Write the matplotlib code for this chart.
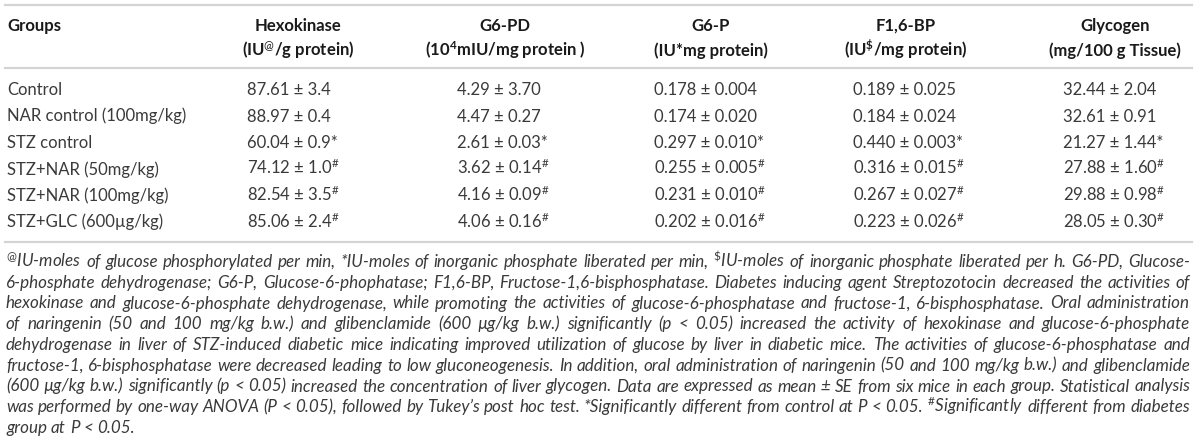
import matplotlib
matplotlib.use('Agg')
import matplotlib.pyplot as plt
from matplotlib.lines import Line2D

plt.rcParams['font.family'] = ['Lato', 'DejaVu Sans']
plt.rcParams['mathtext.fontset'] = 'custom'
plt.rcParams['mathtext.rm'] = 'Lato'
plt.rcParams['mathtext.it'] = 'Lato:italic'
plt.rcParams['mathtext.bf'] = 'Lato:bold'

# table data
groups = ['Control', 'NAR control (100mg/kg)', 'STZ control', 'STZ+NAR (50mg/kg)',
          'STZ+NAR (100mg/kg)', 'STZ+GLC (600\u00b5g/kg)']
marks = ['', '', '*', '#', '#', '#']

hex_mean = ['87.61', '88.97', '60.04', '74.12', '82.54', '85.06']
hex_se = ['3.4', '0.4', '0.9', '1.0', '3.5', '2.4']
g6pd_mean = ['4.29', '4.47', '2.61', '3.62', '4.16', '4.06']
g6pd_se = ['3.70', '0.27', '0.03', '0.14', '0.09', '0.16']
g6p_mean = ['0.178', '0.174', '0.297', '0.255', '0.231', '0.202']
g6p_se = ['0.004', '0.020', '0.010', '0.005', '0.010', '0.016']
f16_mean = ['0.189', '0.184', '0.440', '0.316', '0.267', '0.223']
f16_se = ['0.025', '0.024', '0.003', '0.015', '0.027', '0.026']
gly_mean = ['32.44', '32.61', '21.27', '27.88', '29.88', '28.05']
gly_se = ['2.04', '0.91', '1.44', '1.60', '0.98', '0.30']

headers = ['Hexokinase', 'G6-PD', 'G6-P', 'F1,6-BP', 'Glycogen']
units = [r'(IU$^{@}$/g protein)', r'(10$^{\mathbf{4}}$mIU/mg protein )',
         '(IU*mg protein)', r'(IU$^{\mathbf{\$}}$/mg protein)', '(mg/100 g Tissue)']

footnote = [
    r'$^{@}$IU-moles of glucose phosphorylated per min, *IU-moles of inorganic phosphate liberated per min, $^{\$}$IU-moles of inorganic phosphate liberated per h. G6-PD, Glucose-',
    '6-phosphate dehydrogenase; G6-P, Glucose-6-phophatase; F1,6-BP, Fructose-1,6-bisphosphatase. Diabetes inducing agent Streptozotocin decreased the activities of',
    'hexokinase and glucose-6-phosphate dehydrogenase, while promoting the activities of glucose-6-phosphatase and fructose-1, 6-bisphosphatase. Oral administration',
    'of naringenin (50 and 100 mg/kg b.w.) and glibenclamide (600 \u00b5g/kg b.w.) significantly (p < 0.05) increased the activity of hexokinase and glucose-6-phosphate',
    'dehydrogenase in liver of STZ-induced diabetic mice indicating improved utilization of glucose by liver in diabetic mice. The activities of glucose-6-phosphatase and',
    'fructose-1, 6-bisphosphatase were decreased leading to low gluconeogenesis. In addition, oral administration of naringenin (50 and 100 mg/kg b.w.) and glibenclamide',
    '(600 \u00b5g/kg b.w.) significantly (p < 0.05) increased the concentration of liver glycogen. Data are expressed as mean \u00b1 SE from six mice in each group. Statistical analysis',
    'was performed by one-way ANOVA (P < 0.05), followed by Tukey\u2019s post hoc test. *Significantly different from control at P < 0.05. $^{\\#}$Significantly different from diabetes',
    'group at P < 0.05.',
]

W, H = 1200, 445
fig = plt.figure(figsize=(12, 4.45), dpi=100)
fig.patch.set_facecolor('white')
r = fig.canvas.get_renderer()


def fx(x):
    return x / W


def fy(y):
    return (H - y) / H


def hline(y, x0=5, x1=1192):
    fig.add_artist(Line2D([fx(x0), fx(x1)], [fy(y), fy(y)], transform=fig.transFigure,
                          color='#d4d4d4', lw=1.6))


hline(5)
hline(68)
hline(242)

# header
hc = '#1a1a1a'
fig.text(fx(7), fy(25 + 6), 'Groups', fontsize=12, fontweight='bold', color=hc, va='baseline')
centers = [298, 505, 711, 906, 1115]
for c, h, u in zip(centers, headers, units):
    fig.text(fx(c), fy(25 + 6), h, fontsize=12, fontweight='bold', color=hc, ha='center', va='baseline')
    fig.text(fx(c), fy(50 + 6), u, fontsize=12, fontweight='bold', color=hc, ha='center', va='baseline')

# rows
dc = '#3a3a3a'
lefts = [247, 457, 654, 853, 1063]
cols = [(hex_mean, hex_se), (g6pd_mean, g6pd_se), (g6p_mean, g6p_se),
        (f16_mean, f16_se), (gly_mean, gly_se)]
for i, g in enumerate(groups):
    y = 89 + 26.5 * i + 6
    fig.text(fx(7), fy(y), g, fontsize=12, color=dc, va='baseline')
    m = marks[i]
    sup = '' if m == '' else ('*' if m == '*' else r'$^{\#}$')
    for x, (mean, se) in zip(lefts, cols):
        fig.text(fx(x), fy(y), mean[i] + ' \u00b1 ' + se[i] + sup, fontsize=12, color=dc, va='baseline')

# footnote, justified line by line
fs0 = 10


def tw(s, fs):
    t = fig.text(0, 0, s, fontsize=fs, fontstyle='italic')
    w = t.get_window_extent(r).width
    t.remove()
    return w


nat = [tw(l, fs0) for l in footnote[:-1]]
fs = fs0 * 1176 / max(nat)
x0, x1 = 6, 1190
for k, line in enumerate(footnote):
    y = 262 + 20.75 * k + 5
    words = line.split(' ')
    widths = [tw(w, fs) for w in words]
    if k < len(footnote) - 1:
        gap = (x1 - x0 - sum(widths)) / (len(words) - 1)
    else:
        gap = tw('a a', fs) - tw('aa', fs)
    x = x0
    for w, wd in zip(words, widths):
        fig.text(fx(x), fy(y), w, fontsize=fs, fontstyle='italic', color=dc, va='baseline')
        x += wd + gap

fig.savefig('out.png', dpi=100, facecolor='white')
